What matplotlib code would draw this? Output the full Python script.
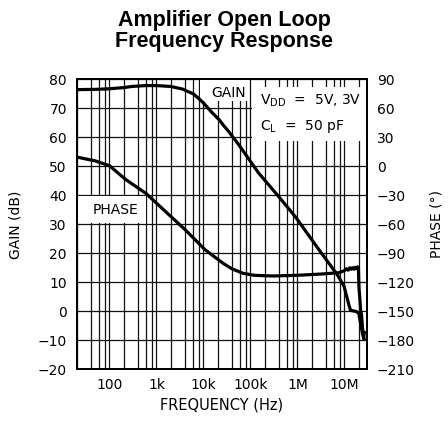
import matplotlib
matplotlib.use("Agg")
import matplotlib.pyplot as plt
from matplotlib.patches import Rectangle
from matplotlib.ticker import FixedLocator, NullFormatter

# gain curve (Hz, dB)
gain_freq = [20, 50, 100, 200, 300, 600, 1000, 2000, 3600, 4300, 6000, 8000, 10000,
             15000, 21600, 26000, 35000, 57000, 150000, 400000, 900000, 2900000,
             7100000, 9800000, 12500000, 13500000, 17000000, 20000000, 22000000,
             24000000, 26000000]
gain_db = [76.4, 76.5, 76.7, 77.1, 77.5, 77.8, 77.8, 77.5, 76.6, 76.0, 75.0, 73.3, 71.8,
           68.6, 66.0, 64.3, 61.8, 57.3, 47.6, 39.5, 32.6, 21.1,
           12.5, 8.6, 2.0, 0.3, 0.0, -0.5, -4.0, -7.5, -9.5]

# phase curve (Hz, degrees)
phase_freq = [20, 50, 100, 225, 595, 1570, 4150, 10900, 26000, 40000, 69000, 120000,
              293000, 1000000, 3400000, 7600000, 10000000, 11000000, 12000000,
              13000000, 14000000, 15000000, 16000000, 17000000, 18000000, 19000000,
              19800000, 20300000, 21300000, 22100000, 23000000, 24000000, 25500000,
              26500000]
phase_deg = [9.5, 5.5, 0.5, -14, -28, -47, -66, -86.5, -100.3, -106, -110.7, -112.8,
             -113.5, -112.8, -111.4, -110.1, -108, -106, -107.5,
             -105, -106.5, -105, -106.5, -104.5, -106, -104,
             -106, -125, -138, -150, -153, -165, -178,
             -172]

decades = [100, 1000, 10000, 100000, 1000000, 10000000]
decade_labels = ["100", "1k", "10k", "100k", "1M", "10M"]
minor_lines = [m * 10 ** e for e in range(1, 8) for m in (2, 4, 6, 8)]
minor_lines = [v for v in minor_lines if 20 <= v <= 20000000]

gain_ticks = list(range(-20, 81, 10))
phase_ticks = list(range(-210, 91, 30))

fig = plt.figure(figsize=(4.48, 4.40), dpi=100)
ax = fig.add_axes([0.171, 0.1607, 0.648, 0.6593])

ax.set_xscale("log")
ax.set_xlim(20, 30000000)
ax.set_ylim(-20, 80)
ax.xaxis.set_major_locator(FixedLocator(decades))
ax.xaxis.set_minor_locator(FixedLocator(minor_lines))
ax.xaxis.set_minor_formatter(NullFormatter())
ax.set_xticklabels(decade_labels)
ax.set_yticks(gain_ticks)
ax.tick_params(which="both", length=0, labelsize=10)
ax.tick_params(axis="x", pad=6)
ax.tick_params(axis="y", pad=7)
ax.grid(True, which="both", color="#111111", linewidth=0.9)

# white label boxes that hide the grid
ax.add_patch(Rectangle((20, 30.4), 575, 9.3, facecolor="white", edgecolor="none", zorder=2))
ax.add_patch(Rectangle((8600, 72.6), 86000, 7.4, facecolor="white", edgecolor="none", zorder=2))
ax.add_patch(Rectangle((106000, 58.6), 28500000, 18.8, facecolor="white", edgecolor="none", zorder=2))

ax.text(0.133, 0.548, "PHASE", transform=ax.transAxes, fontsize=10,
        ha="center", va="center", zorder=3)
ax.text(0.525, 0.952, "GAIN", transform=ax.transAxes, fontsize=10,
        ha="center", va="center", zorder=3)
ax.text(0.632, 0.925, r"V$_{\mathrm{DD}}$  =  5V, 3V", transform=ax.transAxes,
        fontsize=10, ha="left", va="center", zorder=3)
ax.text(0.632, 0.836, r"C$_{\mathrm{L}}$  =  50 pF", transform=ax.transAxes,
        fontsize=10, ha="left", va="center", zorder=3)

ax.plot(gain_freq, gain_db, color="black", linewidth=2.3, zorder=4)

ax2 = ax.twinx()
ax2.set_ylim(-210, 90)
ax2.set_yticks(phase_ticks)
ax2.tick_params(length=0, labelsize=10, pad=7)
ax2.plot(phase_freq, phase_deg, color="black", linewidth=2.3, zorder=4)

for a in (ax, ax2):
    for s in a.spines.values():
        s.set_linewidth(1.4)

fig.text(0.5, 0.941, "Amplifier Open Loop", ha="center", va="baseline",
         fontsize=15.5, fontweight="bold", family="Liberation Sans")
fig.text(0.5, 0.893, "Frequency Response", ha="center", va="baseline",
         fontsize=15.5, fontweight="bold", family="Liberation Sans")
fig.text(0.034, 0.49, "GAIN (dB)", rotation=90, ha="center", va="center", fontsize=10)
fig.text(0.975, 0.49, "PHASE (°)", rotation=90, ha="center", va="center", fontsize=10)
fig.text(0.495, 0.08, "FREQUENCY (Hz)", ha="center", va="center", fontsize=10.5)

fig.savefig("out.png", dpi=100)
